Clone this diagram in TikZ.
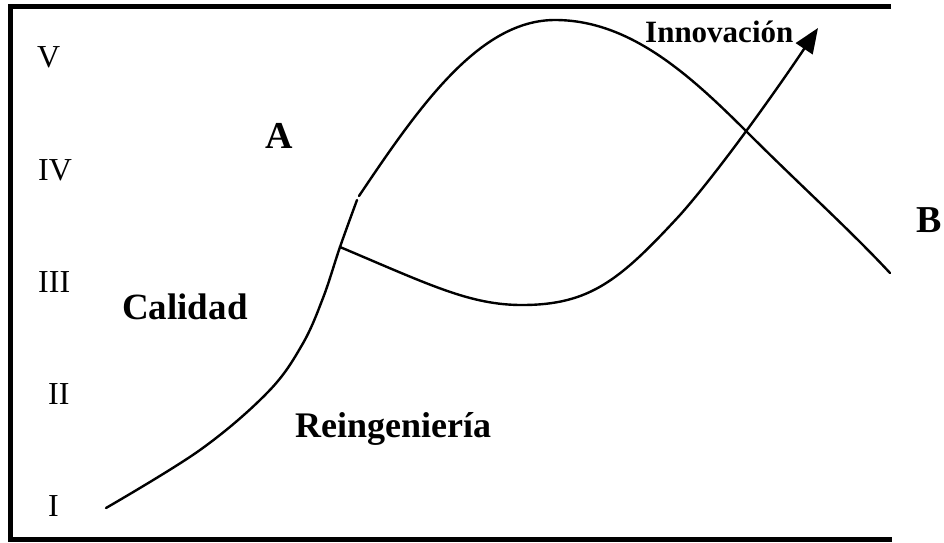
\documentclass[tikz,border=0pt]{standalone}
\usepackage{fontspec}
\setmainfont{Liberation Serif}
\usetikzlibrary{arrows.meta}
\begin{document}
\begin{tikzpicture}[x=1pt,y=-1pt,
  lbl/.style={anchor=base west,inner sep=0pt,font=\fontsize{32}{32}\selectfont},
  blbl/.style={anchor=base west,inner sep=0pt,font=\fontsize{#1}{#1}\selectfont\bfseries},
  crv/.style={line width=2.4pt,line cap=round,line join=round},
  frame/.style={line width=5pt}]
\useasboundingbox (0,0) rectangle (944,542);
% frame (open on the right)
\coordinate (ftr) at (891,6);
\coordinate (ftl) at (10,6);
\coordinate (fbl) at (10,539);
\coordinate (fbr) at (892,539);
\draw[frame] (ftr) -- (ftl) -- (fbl) -- (fbr);
% levels
\node[lbl] (v) at (37,67) {V};
\node[lbl] (iv) at (38,180) {IV};
\node[lbl] (iii) at (38,292) {III};
\node[lbl] (ii) at (48,404) {II};
\node[lbl] (i) at (48,516) {I};
% labels
\node[blbl=38] (a) at (265,148) {A};
\node[blbl=38] (b) at (916,232) {B};
\node[blbl=37] (cal) at (122,319) {Calidad};
\node[blbl=36] (rei) at (295,437) {Reingeniería};
\node[blbl=31] (inn) at (645,42) {Innovación};
% curves
\coordinate (start) at (106,508);
\coordinate (junc) at (340,247);
\coordinate (brk) at (357,200);
\coordinate (up) at (359,196);
\coordinate (peak) at (555,20);
\coordinate (cross) at (748,133);
\coordinate (endc) at (890,273);
\coordinate (low) at (522,305);
\coordinate (mid) at (680,215);
\coordinate (tip) at (818,28);
\draw[crv] plot[smooth,tension=0.6] coordinates {(start) (200,450) (268,392) (302,345) (323,298) (junc) (brk)};
\draw[crv] (up) .. controls (420,105) and (480,20) .. (peak)
  .. controls (630,20) and (690,75) .. (cross)
  .. controls (800,185) and (850,230) .. (endc);
\draw[crv,-{Triangle[length=25pt,width=20pt]}] (junc) .. controls (430,285) and (470,305) .. (low)
  .. controls (590,305) and (620,280) .. (mid)
  .. controls (720,170) and (780,85) .. (tip);
\end{tikzpicture}
\end{document}
